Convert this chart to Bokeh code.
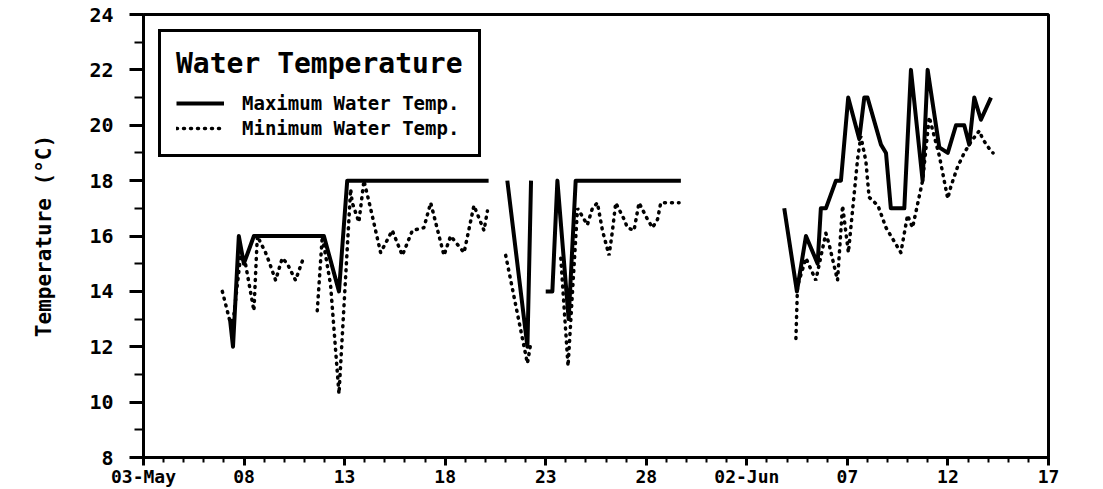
import numpy as np
from bokeh.plotting import figure
from bokeh.models import Range1d, FixedTicker, Legend, LegendItem, ColumnDataSource
from bokeh.embed import file_html
from bokeh.resources import INLINE

nan = np.nan

# Day offsets are counted from 03-May; NaN breaks the record where the logger was off.
max_day = [4.3, 4.45, 4.74, 4.99, 5.49, 8.97, 9.72, 10.13, 17.16, nan,
           18.09, 19.09, 19.27, nan,
           20.0, 20.33, 20.58, 21.14, 21.49, 26.72, nan,
           31.86, 32.49, 32.94, 33.52, 33.68, 33.93, 34.43, 34.68, 35.04, 35.59,
           35.84, 36.0, 36.67, 36.92, 37.16, 37.83, 38.16, 38.74, 38.99, 39.57,
           39.99, 40.4, 40.81, 41.06, 41.31, 41.64, 42.14]
max_temp = [13, 12, 16, 15, 16, 16, 14, 18, 18, nan,
            18, 12, 18, nan,
            14, 14, 18, 13, 18, 18, nan,
            17, 14, 16, 15, 17, 17, 18, 18, 21, 19.5,
            21, 21, 19.3, 19, 17, 17, 22, 18, 22, 19.2,
            19, 20, 20, 19.3, 21, 20.2, 21]

min_day = [3.92, 4.41, 4.83, 5.07, 5.49, 5.66, 6.07, 6.23, 6.57, 6.9, 7.15, 7.56, 7.9, nan,
           8.64, 8.89, 9.3, 9.72, 10.3, 10.38, 10.71, 10.96, 11.29, 11.79, 12.37, 12.87,
           13.37, 13.94, 14.28, 14.94, 15.27, 15.94, 16.43, 16.93, 17.1, nan,
           18.01, 19.09, 19.25, nan,
           20.75, 21.11, 21.58, 21.83, 22.07, 22.32, 22.57, 22.82, 23.15, 23.32, 23.48,
           23.9, 24.06, 24.39, 24.64, 25.06, 25.31, 25.56, 25.72, 26.63, nan,
           32.44, 32.52, 32.94, 33.43, 33.93, 34.09, 34.51, 34.76, 35.05, 35.51, 35.67,
           35.92, 36.08, 36.52, 36.92, 37.66, 37.99, 38.24, 38.74, 39.07, 39.57, 39.99,
           40.15, 40.48, 40.81, 41.14, 41.56, 41.73, 42.06, 42.24]
min_temp = [14, 12.6, 15.3, 15, 13.3, 16, 15.4, 15.1, 14.4, 15.2, 15, 14.4, 15.1, nan,
            13.3, 16, 14.25, 10.3, 17.7, 17.2, 16.5, 18, 17, 15.4, 16.2, 15.3,
            16.2, 16.3, 17.2, 15.3, 16, 15.4, 17.1, 16.2, 16.9, nan,
            15.3, 11.4, 12.1, nan,
            15.2, 11.3, 17, 16.7, 16.4, 17, 17.2, 16.2, 15.3, 16.2, 17.2,
            16.6, 16.3, 16.2, 17.2, 16.6, 16.3, 16.6, 17.2, 17.2, nan,
            12.3, 14.2, 15.2, 14.4, 16.1, 15.7, 14.4, 17.1, 15.4, 18.8, 19.6,
            18.7, 17.4, 17.1, 16.3, 15.4, 16.75, 16.3, 18, 20.3, 18.9, 17.35,
            17.8, 18.5, 19, 19.4, 19.8, 19.5, 19.15, 19]

tick_days = [0, 5, 10, 15, 20, 25, 30, 35, 40, 45]
tick_labels = ["03-May", "08", "13", "18", "23", "28", "02-Jun", "07", "12", "17"]
y_ticks = [8, 10, 12, 14, 16, 18, 20, 22, 24]

FONT = "DejaVu Sans Mono"

p = figure(width=1103, height=489, output_backend="svg", toolbar_location=None,
           x_range=Range1d(0, 45), y_range=Range1d(8, 24),
           min_border_left=143, min_border_right=55, min_border_top=14, min_border_bottom=26,
           background_fill_color="white", border_fill_color="white")

p.xgrid.visible = False
p.ygrid.visible = False
p.outline_line_color = "black"
p.outline_line_width = 3
p.outline_line_alpha = 1

max_src = ColumnDataSource(dict(x=max_day, y=max_temp))
min_src = ColumnDataSource(dict(x=min_day, y=min_temp))

r_max = p.line("x", "y", source=max_src, line_color="black", line_width=4, line_join="round")
r_min = p.line("x", "y", source=min_src, line_color="black", line_width=3.5,
               line_dash="1 6", line_cap="round")

# x axis: one major tick every 5 days, minor tick every day
xa = p.xaxis[0]
xa.ticker = FixedTicker(ticks=tick_days, minor_ticks=list(range(0, 46)))
xa.major_label_overrides = {d: lbl for d, lbl in zip(tick_days, tick_labels)}
xa.axis_line_width = 3
xa.major_tick_line_width = 3
xa.minor_tick_line_width = 2
xa.major_tick_out = 8
xa.major_tick_in = 0
xa.minor_tick_out = 5
xa.minor_tick_in = 0
xa.major_label_standoff = 0
xa.major_label_text_font = FONT
xa.major_label_text_font_style = "bold"
xa.major_label_text_font_size = "18px"
xa.major_label_text_color = "black"

ya = p.yaxis[0]
ya.ticker = FixedTicker(ticks=y_ticks, minor_ticks=[9, 11, 13, 15, 17, 19, 21, 23])
ya.axis_line_width = 3
ya.major_tick_line_width = 3
ya.minor_tick_line_width = 2
ya.major_tick_out = 14
ya.major_tick_in = 0
ya.minor_tick_out = 9
ya.minor_tick_in = 0
ya.major_label_standoff = 16
ya.major_label_text_font = FONT
ya.major_label_text_font_style = "bold"
ya.major_label_text_font_size = "20px"
ya.major_label_text_color = "black"
ya.axis_label = "Temperature (°C)"
ya.axis_label_text_font = FONT
ya.axis_label_text_font_style = "bold"
ya.axis_label_text_font_size = "21px"
ya.axis_label_text_color = "black"
ya.axis_label_standoff = 30

legend = Legend(items=[LegendItem(label="Maximum Water Temp.", renderers=[r_max]),
                       LegendItem(label="Minimum Water Temp.", renderers=[r_min])],
                title="Water Temperature",
                location="top_left")
legend.margin = 15
legend.padding = 15
legend.spacing = 3
legend.glyph_width = 48
legend.label_standoff = 18
legend.label_height = 22
legend.title_standoff = 12
legend.title_text_font = FONT
legend.title_text_font_style = "bold"
legend.title_text_font_size = "28px"
legend.title_text_color = "black"
legend.label_text_font = FONT
legend.label_text_font_style = "bold"
legend.label_text_font_size = "19px"
legend.label_text_color = "black"
legend.border_line_color = "black"
legend.border_line_width = 3
legend.border_line_alpha = 1
legend.background_fill_color = "white"
legend.background_fill_alpha = 1
p.add_layout(legend)

open("out.html", "w").write(file_html(p, INLINE))
